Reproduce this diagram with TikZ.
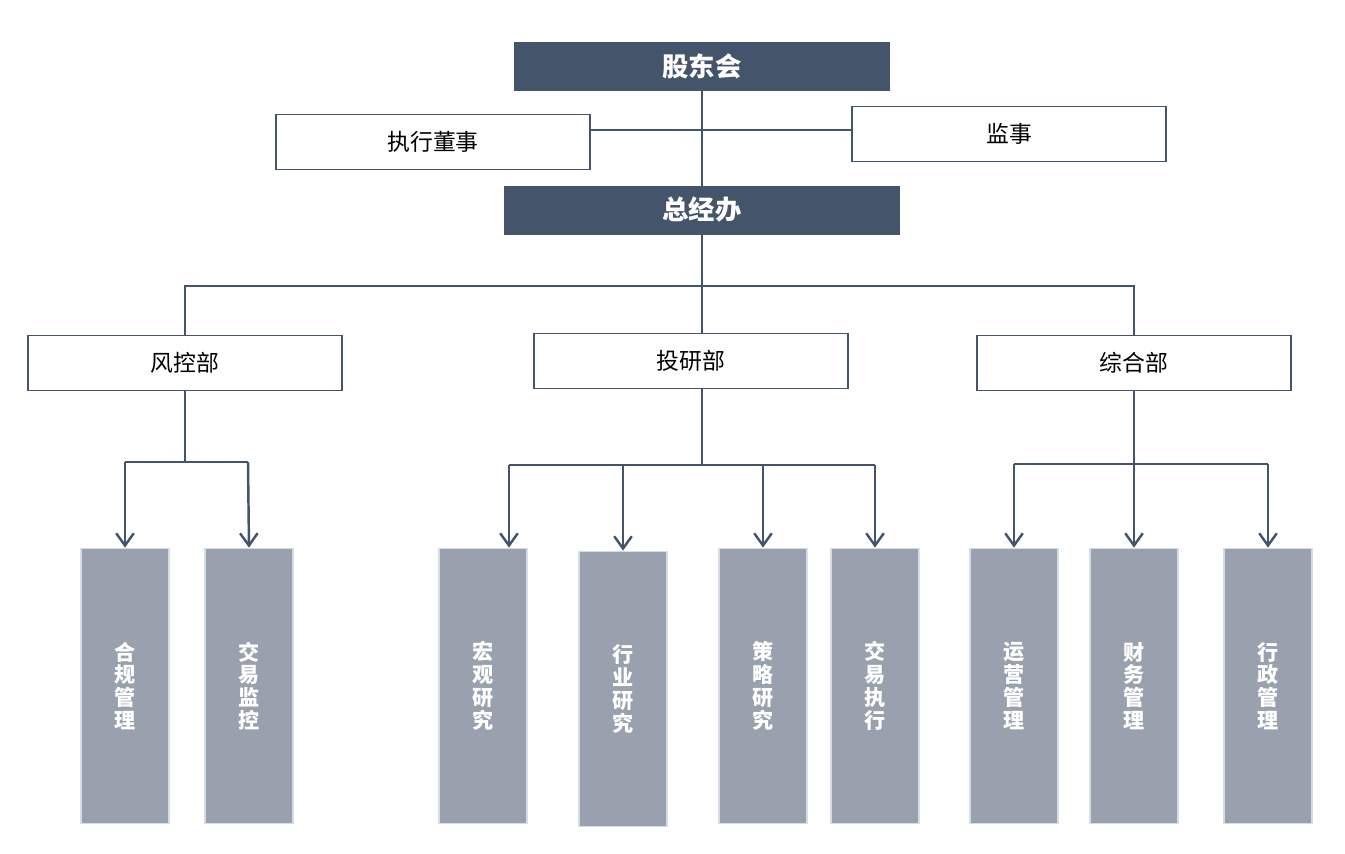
\documentclass[tikz,border=0pt]{standalone}
\usepackage{fontspec}
\setmainfont{Noto Sans CJK SC}
\usetikzlibrary{arrows.meta}
\definecolor{headblue}{HTML}{44546A}
\definecolor{leafgray}{HTML}{9AA1AE}
\definecolor{leafedge}{HTML}{D6DCE5}
\tikzset{
  head/.style={fill=headblue,draw=headblue,text=white,font=\fontsize{15}{15}\selectfont\bfseries,minimum height=0.96cm,inner sep=0pt},
  dept/.style={fill=white,draw=headblue,line width=1pt,minimum width=6.28cm,minimum height=1.1cm,font=\fontsize{13}{13}\selectfont,inner sep=0pt},
  leaf/.style={fill=leafgray,draw=leafedge,line width=1pt,minimum width=1.76cm,minimum height=5.5cm,text=white,font=\fontsize{12}{13}\selectfont\bfseries,align=center,inner sep=0pt},
  link/.style={draw=headblue,line width=1.4pt},
  down/.style={link,-{Straight Barb[length=7pt,width=10pt,line width=1.4pt]}}
}
\begin{document}
\begin{tikzpicture}[x=0.02cm,y=-0.02cm]
\useasboundingbox (0,0) rectangle (1345,853);

\node[head,minimum width=7.5cm] (board) at (702,66) {股东会};
\node[dept] (exec) at (433,142) {执行董事};
\node[dept] (super) at (1009,134) {监事};
\node[head,minimum width=7.9cm] (office) at (702,210) {总经办};

\node[dept] (risk) at (185,363) {风控部};
\node[dept] (research) at (691,361) {投研部};
\node[dept] (general) at (1134,363) {综合部};

\node[leaf] (l1) at (125,686) {合\\规\\管\\理};
\node[leaf] (l2) at (249,686) {交\\易\\监\\控};
\node[leaf] (l3) at (483,686) {宏\\观\\研\\究};
\node[leaf] (l4) at (623,689) {行\\业\\研\\究};
\node[leaf] (l5) at (763,686) {策\\略\\研\\究};
\node[leaf] (l6) at (875,686) {交\\易\\执\\行};
\node[leaf] (l7) at (1014,686) {运\\营\\管\\理};
\node[leaf] (l8) at (1134,686) {财\\务\\管\\理};
\node[leaf] (l9) at (1268,686) {行\\政\\管\\理};

% top part
\draw[link] (board.south) -- (office.north);
\draw[link] (exec.east |- 0,130) -- (super.west |- 0,130);

% departments
\coordinate (bus) at (702,286);
\draw[link] (office.south) -- (bus);
\draw[link] (risk.north) |- (bus) -| (general.north);
\draw[link] (bus) -- (702,334);

% leaves
\coordinate (rbus) at (185,462);
\draw[link] (risk.south) -- (rbus);
\draw[link] (125,462) -- (248,462);
\foreach \n/\x in {l1/125,l2/248}
  \draw[down] (\x,462) -- (\n.north);

\coordinate (tbus) at (702,465);
\draw[link] (702,388) -- (tbus);
\draw[link] (509,465) -- (875,465);
\foreach \n/\x in {l3/509,l4/623,l5/763,l6/875}
  \draw[down] (\x,465) -- (\n.north -| \x,0);

\coordinate (gbus) at (1134,464);
\draw[link] (general.south) -- (gbus);
\draw[link] (1014,464) -- (1268,464);
\foreach \n/\x in {l7/1014,l8/1134,l9/1268}
  \draw[down] (\x,464) -- (\n.north);
\end{tikzpicture}
\end{document}
